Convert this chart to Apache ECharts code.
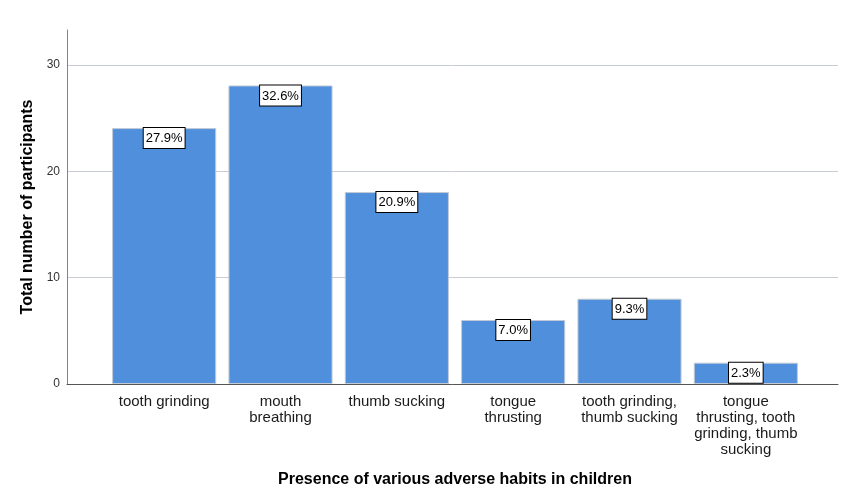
<!DOCTYPE html>
<html><head><meta charset="utf-8">
<script src="https://cdn.jsdelivr.net/npm/echarts@6/dist/echarts.min.js"></script>
<style>html,body{margin:0;padding:0;background:#fff}#c{width:854px;height:504px}</style>
</head><body><div id="c"></div>
<script>
const categories = ['tooth grinding', 'mouth\nbreathing', 'thumb sucking', 'tongue\nthrusting', 'tooth grinding,\nthumb sucking', 'tongue\nthrusting, tooth\ngrinding, thumb\nsucking'];
const counts = [24, 28, 18, 6, 8, 2];
const percents = ['27.9%', '32.6%', '20.9%', '7.0%', '9.3%', '2.3%'];
const yTicks = [0, 10, 20, 30];

const font = 'Liberation Sans, Arial, sans-serif';
const chart = echarts.init(document.getElementById('c'), null, {renderer: 'canvas'});
const YMAX = 33.2;
chart.setOption({
  animation: false,
  backgroundColor: '#ffffff',
  grid: [
    {left: 67, right: 16, top: 65, bottom: 120},
    {left: 106, right: 50, top: 30, bottom: 120},
    {left: 67, right: 16, top: 30, bottom: 120}
  ],
  xAxis: [
    {gridIndex: 0, type: 'value', min: 0, max: 1, show: false},
    {gridIndex: 1, type: 'category', data: categories, axisLine: {show: false}, axisTick: {show: false},
     axisLabel: {interval: 0, color: '#1a1a1a', fontSize: 15, fontFamily: font, lineHeight: 16, margin: 10},
     name: 'Presence of various adverse habits in children', nameLocation: 'middle', nameGap: 88,
     nameTextStyle: {fontSize: 16, fontWeight: 'bold', color: '#000', fontFamily: font}},
    {gridIndex: 2, type: 'value', min: 0, max: 1, axisLine: {show: true, lineStyle: {color: '#555555', width: 1}},
     axisTick: {show: false}, axisLabel: {show: false}, splitLine: {show: false}}
  ],
  yAxis: [
    {gridIndex: 0, type: 'value', min: 0, max: yTicks[yTicks.length - 1], interval: 10,
     axisLine: {show: false}, axisTick: {show: false},
     axisLabel: {color: '#333', fontSize: 12, fontFamily: font, margin: 7},
     splitLine: {show: true, lineStyle: {color: '#c8ccd6', width: 1}}},
    {gridIndex: 1, type: 'value', min: 0, max: YMAX, show: false},
    {gridIndex: 2, type: 'value', min: 0, max: YMAX,
     axisLine: {show: true, lineStyle: {color: '#7a8699', width: 1}}, axisTick: {show: false},
     axisLabel: {show: false}, splitLine: {show: false},
     name: 'Total number of participants', nameLocation: 'middle', nameGap: 31, nameRotate: 90,
     nameTextStyle: {fontSize: 16, fontWeight: 'bold', color: '#000', fontFamily: font}}
  ],
  series: [{
    type: 'bar', xAxisIndex: 1, yAxisIndex: 1, data: counts,
    barCategoryGap: '10.5%',
    itemStyle: {color: '#508fdc', borderColor: '#c2cad6', borderWidth: 1},
    label: {show: true, position: 'insideTop', distance: 0,
      formatter: p => percents[p.dataIndex],
      color: '#000', fontSize: 13, fontFamily: font,
      backgroundColor: '#fff', borderColor: '#000', borderWidth: 1, padding: [4, 2, 3, 2]}
  }]
});
</script></body></html>
